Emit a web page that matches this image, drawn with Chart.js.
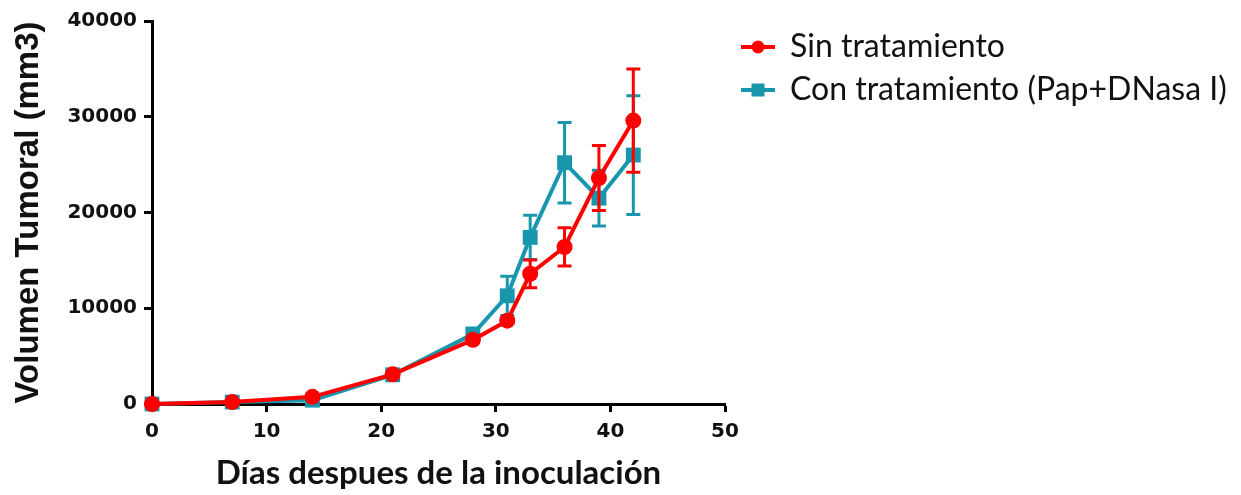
<!DOCTYPE html>
<html>
<head>
<meta charset="utf-8">
<script src="https://cdn.jsdelivr.net/npm/chart.js@4/dist/chart.umd.min.js"></script>
<style>
  html, body { margin: 0; padding: 0; background: #ffffff; }
  #wrap { width: 1241px; height: 495px; }
</style>
</head>
<body>
<div id="wrap"><canvas id="c" width="1241" height="495"></canvas></div>
<script>
// Days after inoculation
const days = [0, 7, 14, 21, 28, 31, 33, 36, 39, 42];

// Untreated group: mean tumour volume (mm3) and error
const sinMean = [0, 200, 750, 3100, 6700, 8700, 13600, 16400, 23600, 29600];
const sinErr  = [0, 0, 0, 150, 300, 300, 1450, 2000, 3400, 5400];

// Treated group (Pap + DNasa I)
const conMean = [0, 200, 400, 3050, 7300, 11300, 17400, 25200, 21500, 26000];
const conErr  = [0, 0, 0, 200, 600, 2050, 2300, 4200, 2900, 6200];

const seriesNames = ['Sin tratamiento', 'Con tratamiento (Pap+DNasa I)'];
const xTicks = [0, 10, 20, 30, 40, 50];
const yTicks = [0, 10000, 20000, 30000, 40000];

const RED = '#ff0000';
const TEAL = '#1896ad';

const toPoints = (xs, ys) => xs.map((x, i) => ({ x: x, y: ys[i] }));

// Vertical error bars with caps, drawn right after each dataset
const errorBars = {
  id: 'errorBars',
  afterDatasetDraw(chart, args) {
    const ds = chart.data.datasets[args.index];
    if (!ds.errors) return;
    const ctx = chart.ctx;
    const xs = chart.scales.x, ys = chart.scales.y;
    ctx.save();
    ctx.strokeStyle = ds.borderColor;
    ctx.lineWidth = 3;
    ctx.lineCap = 'butt';
    ds.data.forEach((p, i) => {
      const e = ds.errors[i];
      if (!e) return;
      const px = xs.getPixelForValue(p.x);
      const top = ys.getPixelForValue(p.y + e);
      const bot = ys.getPixelForValue(p.y - e);
      const half = 7;
      ctx.beginPath();
      ctx.moveTo(px, top); ctx.lineTo(px, bot);
      ctx.moveTo(px - half, top); ctx.lineTo(px + half, top);
      ctx.moveTo(px - half, bot); ctx.lineTo(px + half, bot);
      ctx.stroke();
    });
    ctx.restore();
  }
};

// Legend at the upper right: short line with marker, then the label
const sideLegend = {
  id: 'sideLegend',
  afterDraw(chart) {
    const ctx = chart.ctx;
    const rows = [47, 90];
    chart.data.datasets.forEach((ds, i) => {
      const y = rows[i];
      ctx.save();
      ctx.strokeStyle = ds.borderColor;
      ctx.fillStyle = ds.borderColor;
      ctx.lineWidth = 4;
      ctx.beginPath();
      ctx.moveTo(741, y); ctx.lineTo(775, y);
      ctx.stroke();
      if (ds.pointStyle === 'circle') {
        ctx.beginPath();
        ctx.arc(758, y, 6.5, 0, Math.PI * 2);
        ctx.fill();
      } else {
        ctx.fillRect(758 - 6.5, y - 6.5, 13, 13);
      }
      ctx.fillStyle = '#111111';
      ctx.font = '32px Lato';
      ctx.textBaseline = 'middle';
      ctx.textAlign = 'left';
      ctx.fillText(ds.label, 790, y);
      ctx.restore();
    });
  }
};

const tickFont = { family: 'DejaVu Sans', weight: 'bold', size: 20 };

new Chart(document.getElementById('c'), {
  type: 'line',
  data: {
    datasets: [
      {
        label: seriesNames[0],
        data: toPoints(days, sinMean),
        errors: sinErr,
        borderColor: RED,
        backgroundColor: RED,
        borderWidth: 4,
        pointStyle: 'circle',
        pointRadius: 8,
        pointHoverRadius: 8,
        pointBorderWidth: 0,
        tension: 0,
        clip: false
      },
      {
        label: seriesNames[1],
        data: toPoints(days, conMean),
        errors: conErr,
        borderColor: TEAL,
        backgroundColor: TEAL,
        borderWidth: 4,
        pointStyle: 'rect',
        pointRadius: 10.5,
        pointHoverRadius: 10.5,
        pointBorderWidth: 0,
        tension: 0,
        clip: false
      }
    ]
  },
  options: {
    responsive: false,
    animation: false,
    devicePixelRatio: 1,
    layout: { padding: { top: 21, right: 516, left: 0, bottom: 0 } },
    plugins: {
      legend: { display: false },
      tooltip: { enabled: false }
    },
    scales: {
      x: {
        type: 'linear',
        min: 0,
        max: 50,
        afterBuildTicks: s => { s.ticks = xTicks.map(v => ({ value: v })); },
        afterFit: s => { s.height = 91; },
        ticks: { font: tickFont, color: '#111111', padding: 8, maxRotation: 0 },
        grid: { drawOnChartArea: false, drawTicks: true, tickLength: 8, tickWidth: 3, tickColor: '#000000' },
        border: { display: true, color: '#000000', width: 3 },
        title: {
          display: true,
          text: 'Días despues de la inoculación',
          color: '#111111',
          font: { family: 'Lato', weight: 'bold', size: 33 },
          padding: { top: 0, bottom: 2 }
        }
      },
      y: {
        type: 'linear',
        min: 0,
        max: 40000,
        afterBuildTicks: s => { s.ticks = yTicks.map(v => ({ value: v })); },
        afterFit: s => { s.width = 152; },
        ticks: { font: tickFont, color: '#111111', padding: 7, callback: v => String(v) },
        grid: { drawOnChartArea: false, drawTicks: true, tickLength: 8, tickWidth: 3, tickColor: '#000000' },
        border: { display: true, color: '#000000', width: 3 },
        title: {
          display: true,
          text: 'Volumen Tumoral (mm3)',
          color: '#111111',
          font: { family: 'Liberation Sans, Arial, sans-serif', weight: 'bold', size: 33 },
          padding: { top: 9, bottom: 0 }
        }
      }
    }
  },
  plugins: [errorBars, sideLegend]
});
</script>
</body>
</html>
